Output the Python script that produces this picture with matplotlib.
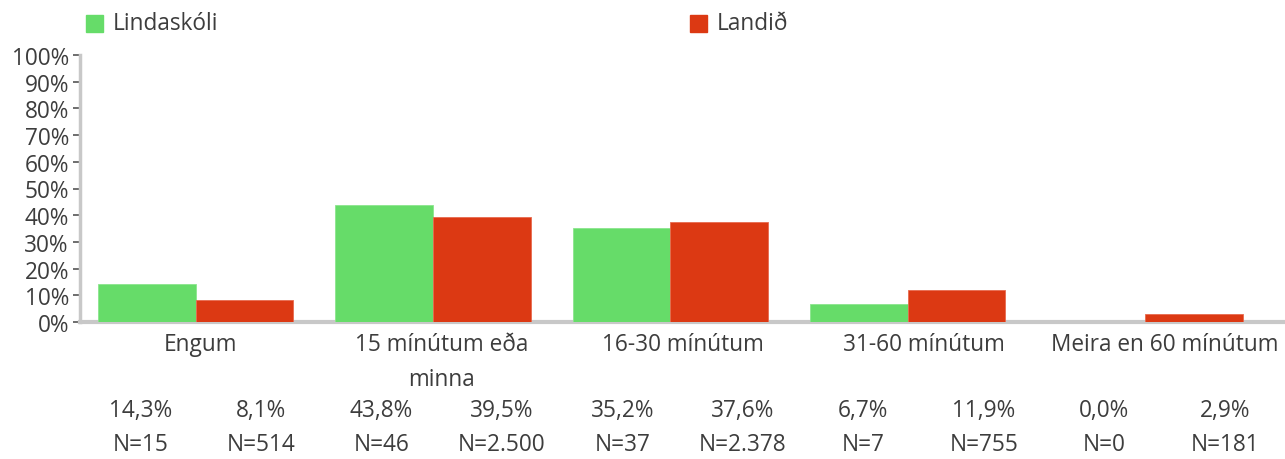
import matplotlib.pyplot as plt
import numpy as np

categories = ['Engum', '15 mínútum eða\nminna', '16-30 mínútum', '31-60 mínútum', 'Meira en 60 mínútum']
series_names = ['Lindaskóli', 'Landið']
school_pct = [14.3, 43.8, 35.2, 6.7, 0.0]
country_pct = [8.1, 39.5, 37.6, 11.9, 2.9]
school_n = ['15', '46', '37', '7', '0']
country_n = ['514', '2.500', '2.378', '755', '181']

green = '#66dc69'
red = '#dc3913'
text_col = '#3d3d3d'
axis_col = '#c8c8c8'
fs = 16.3

plt.rcParams['font.family'] = ['Open Sans', 'DejaVu Sans']

fig = plt.figure(figsize=(12.85, 4.6), dpi=100)
ax = fig.add_axes([80 / 1285, 1 - 323 / 460, 1 - 80 / 1285, 267 / 460])

x = np.arange(len(categories))
# bars sit a touch left of the label centres in the original
bx = x * 0.985 - 0.02
w = 0.405
ax.bar(bx - w / 2, school_pct, w, color=green, edgecolor='#8be58d', linewidth=0.6, zorder=3)
ax.bar(bx + w / 2, country_pct, w, color=red, edgecolor='#e86a4f', linewidth=0.6, zorder=3)

ax.set_ylim(0, 100)
ax.set_xlim(-0.5, 4.5)
ax.set_yticks(np.arange(0, 101, 10))
ax.set_yticklabels([f'{v}%' for v in range(0, 101, 10)], fontsize=fs, color=text_col)
ax.tick_params(axis='y', length=5, width=1.2, color='#555555', pad=3)
ax.set_xticks(x)
ax.set_xticklabels(categories, fontsize=fs, color=text_col, linespacing=1.65, va='top')
ax.tick_params(axis='x', length=0, pad=7)

for s in ['top', 'right']:
    ax.spines[s].set_visible(False)
ax.spines['left'].set_color(axis_col)
ax.spines['left'].set_linewidth(2.5)
ax.spines['bottom'].set_color(axis_col)
ax.spines['bottom'].set_linewidth(3)

# value and N rows under each category
y_pct = -(411 - 323) / 267
y_n = -(445 - 323) / 267
trans = ax.get_xaxis_transform()
for i in range(len(categories)):
    for dx, v, n in [(-0.25, school_pct[i], school_n[i]), (0.25, country_pct[i], country_n[i])]:
        ax.text(x[i] + dx, y_pct, f'{v:.1f}%'.replace('.', ','), transform=trans,
                ha='center', va='center', fontsize=fs, color=text_col)
        ax.text(x[i] + dx, y_n, f'N={n}', transform=trans,
                ha='center', va='center', fontsize=fs, color=text_col)

# legend
for name, col, lx in [(series_names[0], green, 86), (series_names[1], red, 690)]:
    fig.patches.append(plt.Rectangle((lx / 1285, 1 - 33 / 460), 17 / 1285, 17 / 460,
                                     transform=fig.transFigure, color=col))
    fig.text((lx + 27) / 1285, 1 - 24 / 460, name, fontsize=fs, color=text_col, va='center', ha='left')

fig.savefig('out.png', dpi=100)
